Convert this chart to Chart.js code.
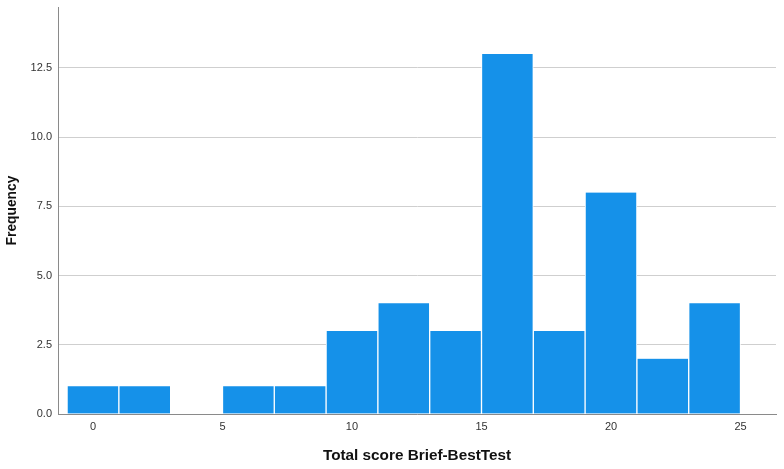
<!DOCTYPE html>
<html>
<head>
<meta charset="utf-8">
<script src="https://cdn.jsdelivr.net/npm/chart.js@4"></script>
<style>
  html, body { margin: 0; padding: 0; background: #fff; }
  #wrap { width: 784px; height: 469px; }
</style>
</head>
<body>
<div id="wrap"><canvas id="chart" width="784" height="469"></canvas></div>
<script>
// bin centres (bin width 2) and counts
const binCenters = [0, 2, 4, 6, 8, 10, 12, 14, 16, 18, 20, 22, 24]
const counts = [1, 1, 0, 1, 1, 3, 4, 3, 13, 3, 8, 2, 4]
const xTicks = [0, 5, 10, 15, 20, 25]
const yTicks = [0, 2.5, 5, 7.5, 10, 12.5]

const points = binCenters.map((c, i) => ({ x: c, y: counts[i] }))

new Chart(document.getElementById("chart"), {
    type: "bar",
    data: {
        datasets: [
            {
                label: "Frequency",
                data: points,
                backgroundColor: "#1591e9",
                borderColor: "#ffffff",
                borderWidth: { left: 1, right: 1, top: 0, bottom: 0 },
                barPercentage: 1,
                categoryPercentage: 1,
            },
        ],
    },
    options: {
        responsive: false,
        animation: false,
        layout: { padding: { top: 7, right: 8, left: 0, bottom: 0 } },
        plugins: { legend: { display: false }, tooltip: { enabled: false } },
        scales: {
            x: {
                type: "linear",
                min: -1.35,
                max: 26.37,
                offset: false,
                afterBuildTicks: scale => { scale.ticks = xTicks.map(v => ({ value: v })) },
                afterFit: scale => { scale.height = 55 },
                grid: { display: false, drawTicks: false },
                border: { color: "#8a8a8a", width: 1 },
                ticks: {
                    color: "#333",
                    font: { family: "Liberation Sans", size: 11 },
                    padding: 6,
                    maxRotation: 0,
                },
                title: {
                    display: true,
                    text: "Total score Brief-BestTest",
                    color: "#111",
                    font: { family: "Liberation Sans", size: 15.3, weight: "bold" },
                    padding: { top: 9 },
                },
            },
            y: {
                min: 0,
                max: 14.7,
                afterBuildTicks: scale => { scale.ticks = yTicks.map(v => ({ value: v })) },
                afterFit: scale => {
                    scale.width = 58
                    scale.paddingTop = 0
                },
                grid: { color: "#cfcfcf", drawTicks: false },
                border: { color: "#8a8a8a", width: 1 },
                ticks: {
                    color: "#333",
                    font: { family: "Liberation Sans", size: 11 },
                    padding: 6,
                    callback: v => v.toFixed(1),
                },
                title: {
                    display: true,
                    text: "Frequency",
                    color: "#111",
                    font: { family: "Liberation Sans", size: 13.8, weight: "bold" },
                    padding: { bottom: 0, top: 4 },
                },
            },
        },
    },
})
</script>
</body>
</html>
